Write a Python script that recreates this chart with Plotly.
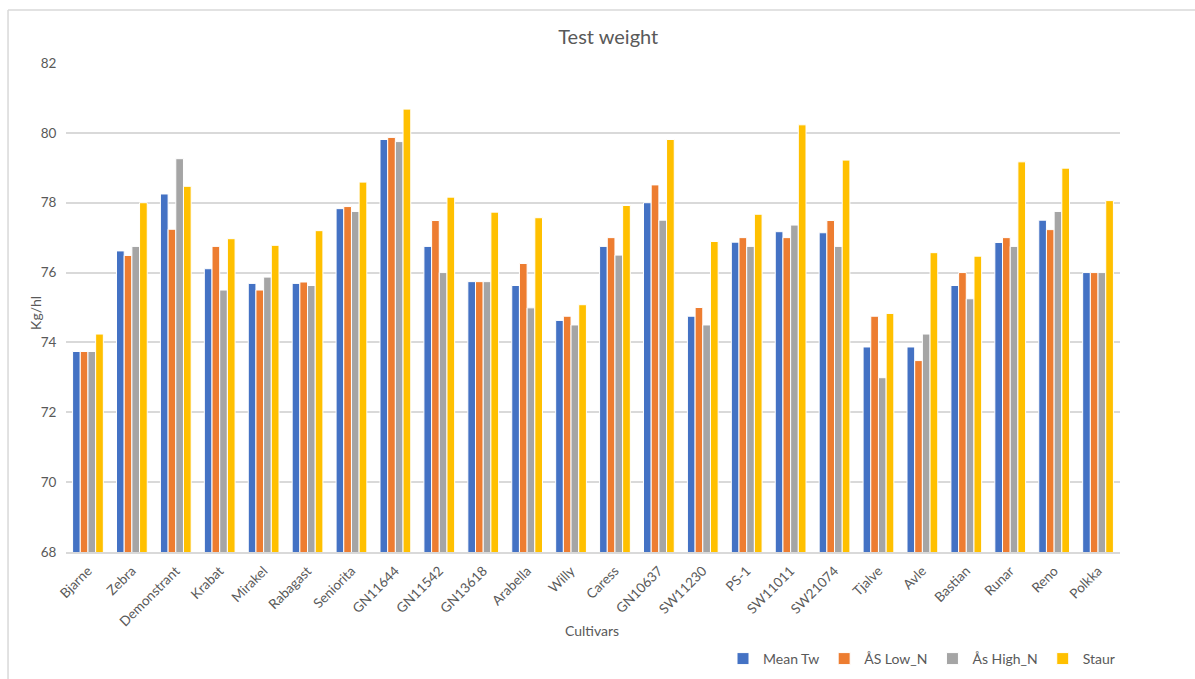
import plotly.graph_objects as go

cultivars = ["Bjarne", "Zebra", "Demonstrant", "Krabat", "Mirakel", "Rabagast",
             "Seniorita", "GN11644", "GN11542", "GN13618", "Arabella", "Willy",
             "Caress", "GN10637", "SW11230", "PS-1", "SW11011", "SW21074",
             "Tjalve", "Avle", "Bastian", "Runar", "Reno", "Polkka"]

mean_tw = [73.74, 76.62, 78.25, 76.11, 75.69, 75.69, 77.83, 79.81, 76.75, 75.74,
           75.63, 74.63, 76.75, 78.0, 74.75, 76.87, 77.17, 77.14, 73.87, 73.87,
           75.63, 76.86, 77.5, 76.0]
as_low_n = [73.74, 76.49, 77.24, 76.75, 75.5, 75.73, 77.89, 79.87, 77.49, 75.74,
            76.26, 74.75, 77.0, 78.51, 75.0, 77.0, 77.0, 77.49, 74.75, 73.48,
            76.0, 77.0, 77.23, 76.0]
as_high_n = [73.74, 76.75, 79.26, 75.5, 75.87, 75.63, 77.75, 79.75, 76.0, 75.74,
             74.99, 74.5, 76.5, 77.5, 74.5, 76.75, 77.36, 76.75, 72.99, 74.24,
             75.25, 76.75, 77.75, 76.0]
staur = [74.24, 78.0, 78.47, 76.97, 76.78, 77.2, 78.59, 80.68, 78.16, 77.73,
         77.57, 75.08, 77.92, 79.81, 76.89, 77.67, 80.23, 79.22, 74.83, 76.57,
         76.47, 79.17, 78.99, 78.06]

series = [
    ("Mean Tw", mean_tw, "#4472C4"),
    ("ÅS Low_N", as_low_n, "#ED7D31"),
    ("Ås High_N", as_high_n, "#A5A5A5"),
    ("Staur", staur, "#FFC000"),
]

FONT = "Lato, 'Open Sans', sans-serif"
TXT = "#595959"

fig = go.Figure()
for name, vals, color in series:
    fig.add_trace(go.Bar(
        x=cultivars, y=vals, name=name,
        marker=dict(color=color, line=dict(color="white", width=1)),
    ))

# outer chart frame (top and left edges)
fig.add_shape(type="line", xref="paper", yref="paper",
              x0=-0.055, x1=1.08, y0=1.1084, y1=1.1084,
              line=dict(color="#D9D9D9", width=1.5))
fig.add_shape(type="line", xref="paper", yref="paper",
              x0=-0.055, x1=-0.055, y0=1.1084, y1=-0.27,
              line=dict(color="#D9D9D9", width=1.5))

fig.add_annotation(text="Kg/hl", xref="paper", yref="paper",
                   x=-0.0389, y=0.49, textangle=-90, showarrow=False,
                   font=dict(family=FONT, size=14, color=TXT))
fig.add_annotation(text="Cultivars", xref="paper", yref="paper",
                   x=0.499, y=-0.182, showarrow=False,
                   font=dict(family=FONT, size=14, color=TXT))

fig.update_layout(
    width=1195, height=679,
    margin=dict(l=66, r=75, t=63, b=127, autoexpand=False),
    paper_bgcolor="white", plot_bgcolor="white",
    title=dict(text="Test weight", x=0.509, xanchor="center",
               y=1 - 37 / 679, yanchor="middle",
               font=dict(family=FONT, size=20, color=TXT)),
    barmode="group", bargap=0.3, bargroupgap=0.0,
    font=dict(family=FONT, size=12, color=TXT),
    legend=dict(orientation="h", x=1.0, xanchor="right",
                yref="container", y=1 - 659 / 679, yanchor="middle",
                font=dict(family=FONT, size=14, color=TXT),
                itemwidth=30, traceorder="normal"),
    xaxis=dict(tickangle=-45, showgrid=False, showline=True, automargin=False,
               linecolor="#D9D9D9", linewidth=1.5, ticks="outside",
               ticklen=4, tickcolor="rgba(0,0,0,0)",
               tickfont=dict(family=FONT, size=13.5, color=TXT)),
    yaxis=dict(range=[68, 82], dtick=2, showgrid=True, gridcolor="#D9D9D9",
               gridwidth=1.5, zeroline=False, ticks="outside", ticklen=6,
               tickcolor="rgba(0,0,0,0)", automargin=False,
               tickfont=dict(family=FONT, size=13.5, color=TXT)),
)

fig.write_html("out.html")
